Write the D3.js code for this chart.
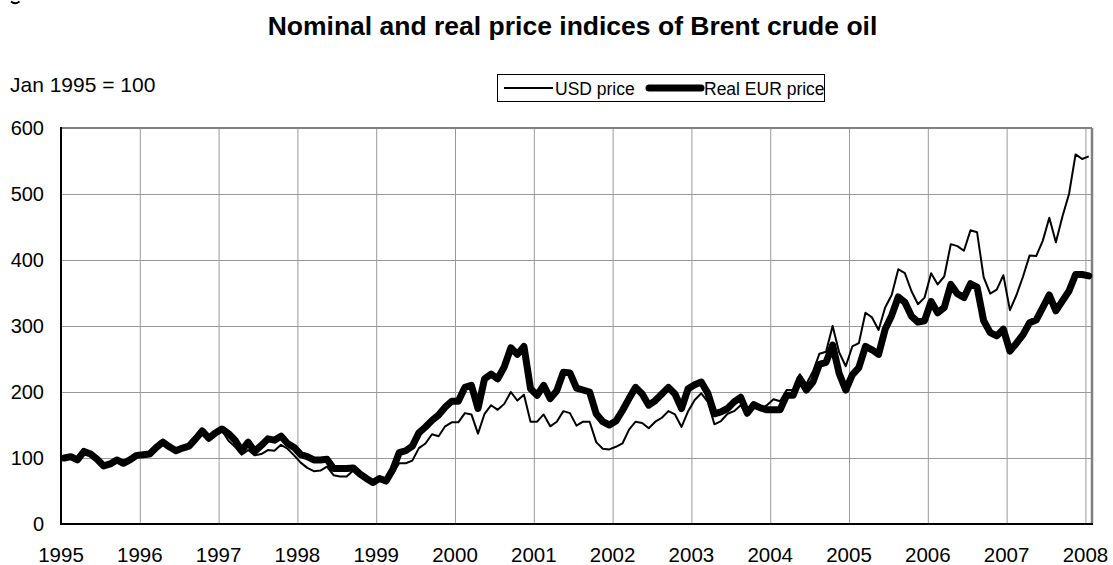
<!DOCTYPE html>
<html>
<head>
<meta charset="utf-8">
<script src="https://cdn.jsdelivr.net/npm/d3@7"></script>
<style>
  html, body { margin: 0; padding: 0; background: #fff; }
  svg { display: block; font-family: "Liberation Sans", Arial, sans-serif; }
</style>
</head>
<body>
<svg id="chart" width="1113" height="565"></svg>
<script>
// ---- data (monthly, Jan 1995 ... Jan 2008), index Jan 1995 = 100 ----
const yearLabels = ["1995","1996","1997","1998","1999","2000","2001","2002","2003","2004","2005","2006","2007","2008"];
const yTicks = [0, 100, 200, 300, 400, 500, 600];
const seriesNames = ["USD price", "Real EUR price"];

const usdPrice = [
  100,103, 99,112,109,101, 91, 94, 99, 94, 99,106,   // 1995
  107,107,118,125,116,109,115,118,132,144,133,140,   // 1996
  142,126,117,105,112,104,106,112,111,120,114,104,   // 1997
   93, 85, 80, 81, 87, 74, 72, 72, 81, 77, 67, 59,   // 1998
   67, 62, 76, 92, 92, 96,115,122,136,133,148,154,   // 1999
  154,168,166,137,167,180,173,182,200,187,196,155,   // 2000
  155,166,148,155,171,168,149,155,155,124,114,113,   // 2001
  117,122,143,155,153,145,155,161,171,166,147,171,   // 2002
  188,198,185,151,156,167,171,180,164,179,174,180,   // 2003
  189,186,203,203,227,212,231,258,261,300,260,239,   // 2004
  269,274,320,313,294,328,347,386,380,353,333,343,   // 2005
  380,363,375,424,421,414,445,442,374,349,355,377,   // 2006
  324,347,375,407,406,429,464,427,466,500,560,553,   // 2007
  557                                                // Jan 2008
];

const realEurPrice = [
  100,102, 97,110,106, 98, 88, 91, 97, 92, 97,104,   // 1995
  105,106,116,124,117,111,115,118,129,141,130,138,   // 1996
  144,137,127,111,124,110,119,129,127,133,122,116,   // 1997
  105,102, 97, 97, 98, 84, 84, 84, 85, 76, 69, 63,   // 1998
   69, 65, 82,108,111,118,138,147,157,165,177,186,   // 1999
  186,207,210,175,220,227,220,238,267,257,269,205,   // 2000
  195,210,190,202,230,229,206,203,200,167,155,150,   // 2001
  156,172,190,207,197,180,187,197,207,197,175,205,   // 2002
  211,215,198,167,170,175,185,192,168,181,176,173,   // 2003
  173,173,195,195,220,203,215,242,245,271,228,203,   // 2004
  226,237,269,264,257,295,316,344,336,315,306,308,   // 2005
  337,320,328,363,349,343,364,359,308,290,285,295,   // 2006
  262,274,287,305,309,328,347,323,338,353,378,378,   // 2007
  376                                                // Jan 2008
];

// ---- layout ----
const svg = d3.select("#chart");
const plot = { left: 61, right: 1092, top: 128, bottom: 524 };

// x: month index (0 = Jan 1995); points drawn mid-month
const x = d3.scaleLinear().domain([0, 157]).range([plot.left, plot.right]);
const y = d3.scaleLinear().domain([0, 600]).range([plot.bottom, plot.top]);

// tiny cropped glyph remnant at the very top-left edge of the picture
svg.append("path").attr("d", "M11,1.5 Q15,5 19.5,1.5").attr("fill", "none")
  .attr("stroke", "#000").attr("stroke-width", 1.8);

// gridlines
const yearIdx = yearLabels.map((d, i) => i * 12);
svg.append("g")
  .attr("transform", `translate(0,${plot.bottom})`)
  .call(d3.axisBottom(x).tickValues(yearIdx).tickSize(-(plot.bottom - plot.top)).tickFormat(""))
  .call(g => g.select(".domain").remove())
  .call(g => g.selectAll("line").attr("stroke", "#999").attr("stroke-width", 1));

svg.append("g")
  .attr("transform", `translate(${plot.left},0)`)
  .call(d3.axisLeft(y).tickValues(yTicks).tickSize(-(plot.right - plot.left)).tickFormat(""))
  .call(g => g.select(".domain").remove())
  .call(g => g.selectAll("line").attr("stroke", "#999").attr("stroke-width", 1));

// frame: top & right grey, left & bottom black
svg.append("line").attr("x1", plot.left).attr("x2", plot.right).attr("y1", plot.top).attr("y2", plot.top)
  .attr("stroke", "#808080").attr("stroke-width", 2);
svg.append("line").attr("x1", plot.right).attr("x2", plot.right).attr("y1", plot.top).attr("y2", plot.bottom)
  .attr("stroke", "#808080").attr("stroke-width", 2.5);

// lines
const line = d3.line().x((d, i) => x(i + 0.5)).y(d => y(d));
svg.append("path").datum(realEurPrice).attr("d", line)
  .attr("fill", "none").attr("stroke", "#000").attr("stroke-width", 7)
  .attr("stroke-linejoin", "round").attr("stroke-linecap", "round");
svg.append("path").datum(usdPrice).attr("d", line)
  .attr("fill", "none").attr("stroke", "#000").attr("stroke-width", 2)
  .attr("stroke-linejoin", "round");

// axes lines (black)
svg.append("line").attr("x1", plot.left).attr("x2", plot.left).attr("y1", plot.top - 1).attr("y2", plot.bottom + 1)
  .attr("stroke", "#000").attr("stroke-width", 2);
svg.append("line").attr("x1", plot.left - 1).attr("x2", plot.right + 1).attr("y1", plot.bottom).attr("y2", plot.bottom)
  .attr("stroke", "#000").attr("stroke-width", 2);

// y tick labels
svg.append("g").selectAll("text").data(yTicks).join("text")
  .attr("x", 44).attr("y", d => y(d)).attr("dy", "0.35em")
  .attr("text-anchor", "end").attr("font-size", 20).attr("fill", "#000")
  .text(d => d);

// x tick labels
svg.append("g").selectAll("text").data(yearLabels).join("text")
  .attr("x", (d, i) => x(i * 12)).attr("y", 562)
  .attr("text-anchor", "middle").attr("font-size", 20.5).attr("fill", "#000")
  .text(d => d);

// title
svg.append("text").attr("x", 572.5).attr("y", 35).attr("text-anchor", "middle")
  .attr("font-size", 26.5).attr("font-weight", "bold").attr("fill", "#000")
  .text("Nominal and real price indices of Brent crude oil");

// unit label
svg.append("text").attr("x", 10).attr("y", 92).attr("font-size", 21).attr("fill", "#000")
  .text("Jan 1995 = 100");

// legend
const lg = svg.append("g");
lg.append("rect").attr("x", 497.5).attr("y", 74.5).attr("width", 327).attr("height", 27)
  .attr("fill", "#fff").attr("stroke", "#000").attr("stroke-width", 1);
const legendItems = [
  { name: seriesNames[0], w: 2, x0: 504, x1: 553, tx: 555 },
  { name: seriesNames[1], w: 7, x0: 649, x1: 701, tx: 704 }
];
legendItems.forEach(it => {
  lg.append("line").attr("x1", it.x0).attr("x2", it.x1).attr("y1", 88).attr("y2", 88)
    .attr("stroke", "#000").attr("stroke-width", it.w).attr("stroke-linecap", it.w > 3 ? "round" : "butt");
  lg.append("text").attr("x", it.tx).attr("y", 94.5).attr("font-size", 17.5).attr("fill", "#000").text(it.name);
});
</script>
</body>
</html>
